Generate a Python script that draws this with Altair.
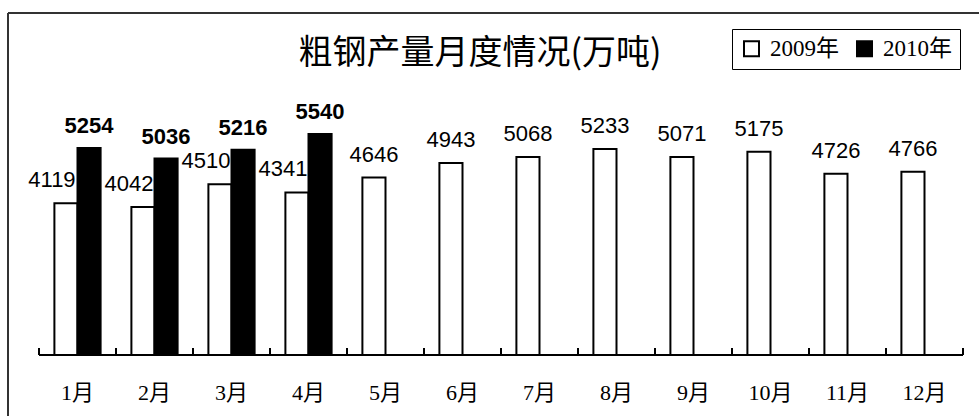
import altair as alt
import pandas as pd

chart_title = "粗钢产量月度情况(万吨)"
months = ["1月", "2月", "3月", "4月", "5月", "6月", "7月", "8月", "9月", "10月", "11月", "12月"]
years = ["2009年", "2010年"]
output_2009 = [4119, 4042, 4510, 4341, 4646, 4943, 5068, 5233, 5071, 5175, 4726, 4766]
output_2010 = [5254, 5036, 5216, 5540]

rows = []
for i, m in enumerate(months):
    rows.append({"month": m, "year": years[0], "value": output_2009[i],
                 "paired": i < len(output_2010)})
for i, v in enumerate(output_2010):
    rows.append({"month": months[i], "year": years[1], "value": v, "paired": True})
df = pd.DataFrame(rows)
month_df = pd.DataFrame({"month": months})
title_df = pd.DataFrame({"title": [chart_title]})

serif = "Liberation Serif, Noto Sans CJK SC"
sans = "Liberation Sans, Arial"
BASE = 1000  # bars rise from this value, which sits on the baseline
W, H = 924, 292
PAD_L, PAD_T, PAD_R, PAD_B = 39, 63, 16, 61
STEP = W / len(months)

x_scale = alt.Scale(paddingInner=0.4, paddingOuter=0.2)
y_scale = alt.Scale(domain=[BASE, 7000], zero=False)

x_month = alt.X("month:N", sort=months, scale=x_scale, axis=None)
y_val = alt.Y("value:Q", scale=y_scale, axis=None)
x_off = alt.XOffset("year:N", sort=years)

bars = alt.Chart(df).mark_bar(stroke="black", strokeWidth=2).encode(
    x=x_month,
    xOffset=x_off,
    y=y_val,
    y2=alt.datum(BASE),
    fill=alt.Fill("year:N", sort=years,
                  scale=alt.Scale(domain=years, range=["#ffffff", "#000000"]),
                  legend=alt.Legend(title=None, orient="none", legendX=693, legendY=-34,
                                    direction="horizontal", symbolType="square",
                                    symbolSize=225, symbolStrokeColor="black",
                                    symbolStrokeWidth=2, labelFont=serif,
                                    labelFontSize=23, labelColor="black",
                                    labelOffset=7, columnPadding=14, padding=8,
                                    strokeColor="black")),
)

# baseline, boundary ticks between months and month names
baseline = alt.Chart(title_df).mark_rule(color="black", strokeWidth=2).encode(
    x=alt.value(0), x2=alt.value(W), y=alt.value(H)
)
ticks_left = alt.Chart(month_df).mark_rule(
    color="black", strokeWidth=2, xOffset=-STEP / 2
).encode(x=x_month, y=alt.value(H), y2=alt.value(H - 7))
ticks_last = alt.Chart(month_df).transform_filter(
    alt.datum.month == months[-1]
).mark_rule(color="black", strokeWidth=2, xOffset=STEP / 2).encode(
    x=x_month, y=alt.value(H), y2=alt.value(H - 7)
)
month_labels = alt.Chart(month_df).mark_text(
    font=serif, fontSize=22, baseline="middle", color="black"
).encode(x=x_month, y=alt.value(H + 38), text="month:N")

text_base = alt.Chart(df).encode(x=x_month, xOffset=x_off, y=y_val, text="value:Q")

label_2010 = text_base.transform_filter(alt.datum.year == years[1]).mark_text(
    font=sans, fontSize=22, fontWeight="bold", baseline="middle", dy=-22, color="black"
)
label_2009_paired = text_base.transform_filter(
    (alt.datum.year == years[0]) & alt.datum.paired
).mark_text(font=sans, fontSize=22, baseline="middle", dy=-23, dx=-14, color="black")
label_2009_single = text_base.transform_filter(
    (alt.datum.year == years[0]) & ~alt.datum.paired
).mark_text(font=sans, fontSize=22, baseline="middle", dy=-23, color="black")

title = alt.Chart(title_df).mark_text(
    font="Noto Sans CJK SC", fontSize=34, baseline="middle", align="center", color="black"
).encode(x=alt.value(441), y=alt.value(-9), text="title:N")

# outer frame: top and left edges of the surrounding box, kept inside the canvas
frame_top = alt.Chart(title_df).mark_rule(color="#333333", strokeWidth=2).encode(
    x=alt.value(-31), x2=alt.value(W + PAD_R), y=alt.value(-50)
)
frame_left = alt.Chart(title_df).mark_rule(color="#333333", strokeWidth=2).encode(
    x=alt.value(-31), y=alt.value(-50), y2=alt.value(H + PAD_B)
)

chart = alt.layer(
    frame_top, frame_left, title, bars, baseline, ticks_left, ticks_last, month_labels,
    label_2010, label_2009_paired, label_2009_single
).properties(
    width=W,
    height=H,
    background="white",
    padding={"left": PAD_L, "top": PAD_T, "right": PAD_R, "bottom": PAD_B},
    autosize=alt.AutoSizeParams(type="none"),
).configure_view(strokeWidth=0)

chart.save("out.html", embed_options={"renderer": "svg", "actions": False})
